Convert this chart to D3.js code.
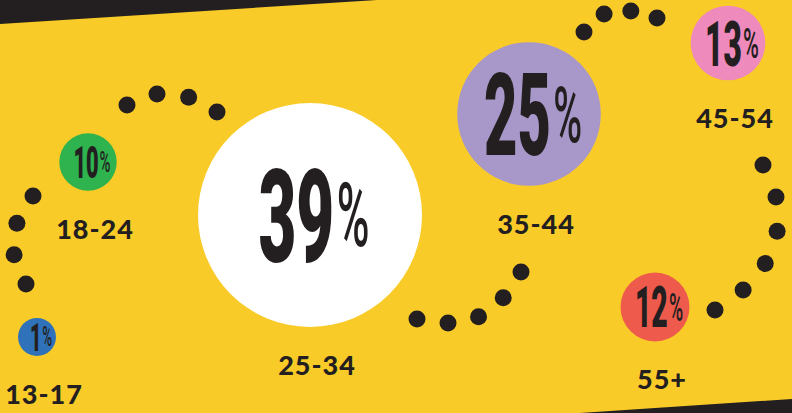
<!DOCTYPE html>
<html>
<head>
<meta charset="utf-8">
<script src="https://cdn.jsdelivr.net/npm/d3@7"></script>
<style>
  html, body { margin: 0; padding: 0; background: #f9cb28; }
  svg { display: block; }
</style>
</head>
<body>
<svg id="misvg"></svg>
<script>
// age groups and share of audience
const ageGroups = ["13-17", "18-24", "25-34", "35-44", "45-54", "55+"];
const shares = [1, 10, 39, 25, 13, 12];
const fills = ["#2f72b9", "#2eb34f", "#ffffff", "#a898c9", "#ef8abd", "#ee5a4c"];

// where each bubble sits on the page
const centers = [[37, 337], [88, 162], [310, 215], [529, 114], [728, 43], [655, 307]];

// waypoints of the dotted connectors (decorative)
const connectors = [
  { pts: [[26, 284], [14, 254], [17, 223], [33, 196]], n: 4 },
  { pts: [[127, 105], [157, 94], [188, 97], [217, 112]], n: 4 },
  { pts: [[417, 319], [447, 323], [478, 317], [503, 298], [521, 272]], n: 5 },
  { pts: [[584, 32], [604, 14], [631, 11], [657, 18]], n: 4 },
  { pts: [[763, 165], [776, 197], [777, 232], [765, 264], [742, 291], [715, 310]], n: 6 }
];

const width = 792, height = 413;
const ink = "#231f20";

const svg = d3.select("#misvg")
  .attr("width", width)
  .attr("height", height);

svg.append("rect")
  .attr("width", width)
  .attr("height", height)
  .attr("fill", "#f9cb28");

// dark diagonal corners
svg.append("path")
  .attr("d", "M0,0L377,0L0,24Z")
  .attr("fill", ink);
svg.append("path")
  .attr("d", "M580," + height + "L" + width + ",399L" + width + "," + height + "Z")
  .attr("fill", ink);

// dotted connectors
const line = d3.line().curve(d3.curveCatmullRom);
connectors.forEach(function(c) {
  const p = svg.append("path")
    .attr("d", line(c.pts))
    .attr("fill", "none")
    .attr("stroke", "none");
  const len = p.node().getTotalLength();
  d3.range(c.n).forEach(function(i) {
    const pt = p.node().getPointAtLength(len * i / (c.n - 1));
    svg.append("circle")
      .attr("cx", pt.x)
      .attr("cy", pt.y)
      .attr("r", 8.5)
      .attr("fill", ink);
  });
});

const data = ageGroups.map(function(g, i) {
  return { group: g, share: shares[i], fill: fills[i], cx: centers[i][0], cy: centers[i][1] };
});

const r = d3.scaleLinear().domain([0, 39]).range([0, 112]);
const radius = function(d) { return Math.max(19, r(d.share)); };
// height of the digits inside each bubble
const cap = d3.scaleLinear().domain([1, 10, 13, 25, 39]).range([28, 31, 45, 82, 93]);

const g = svg.selectAll(".bubble")
  .data(data)
  .enter().append("g")
  .attr("class", "bubble");

g.append("circle")
  .attr("cx", function(d) { return d.cx; })
  .attr("cy", function(d) { return d.cy; })
  .attr("r", radius)
  .attr("fill", function(d) { return d.fill; });

const pct = g.append("text")
  .attr("transform", function(d) {
    return "translate(" + (d.cx + 4) + "," + (d.cy + cap(d.share) / 2) + ") scale(0.5,1)";
  })
  .attr("text-anchor", "middle")
  .attr("font-family", "Roboto, 'Liberation Sans', sans-serif")
  .attr("font-weight", 900)
  .attr("font-size", function(d) { return cap(d.share) / 0.711; })
  .attr("fill", ink);

pct.append("tspan").text(function(d) { return d.share; });
pct.append("tspan")
  .attr("font-size", "0.68em")
  .attr("font-weight", 500)
  .attr("dy", "-0.17em")
  .attr("dx", "0.06em")
  .text("%");

g.append("text")
  .attr("x", function(d) { return d.cx + 7; })
  .attr("y", function(d) { return d.cy + radius(d) + 48; })
  .attr("text-anchor", "middle")
  .attr("font-family", "Lato, 'Open Sans', sans-serif")
  .attr("font-weight", 900)
  .attr("font-size", 27)
  .attr("letter-spacing", 1)
  .attr("fill", ink)
  .text(function(d) { return d.group; });
</script>
</body>
</html>
